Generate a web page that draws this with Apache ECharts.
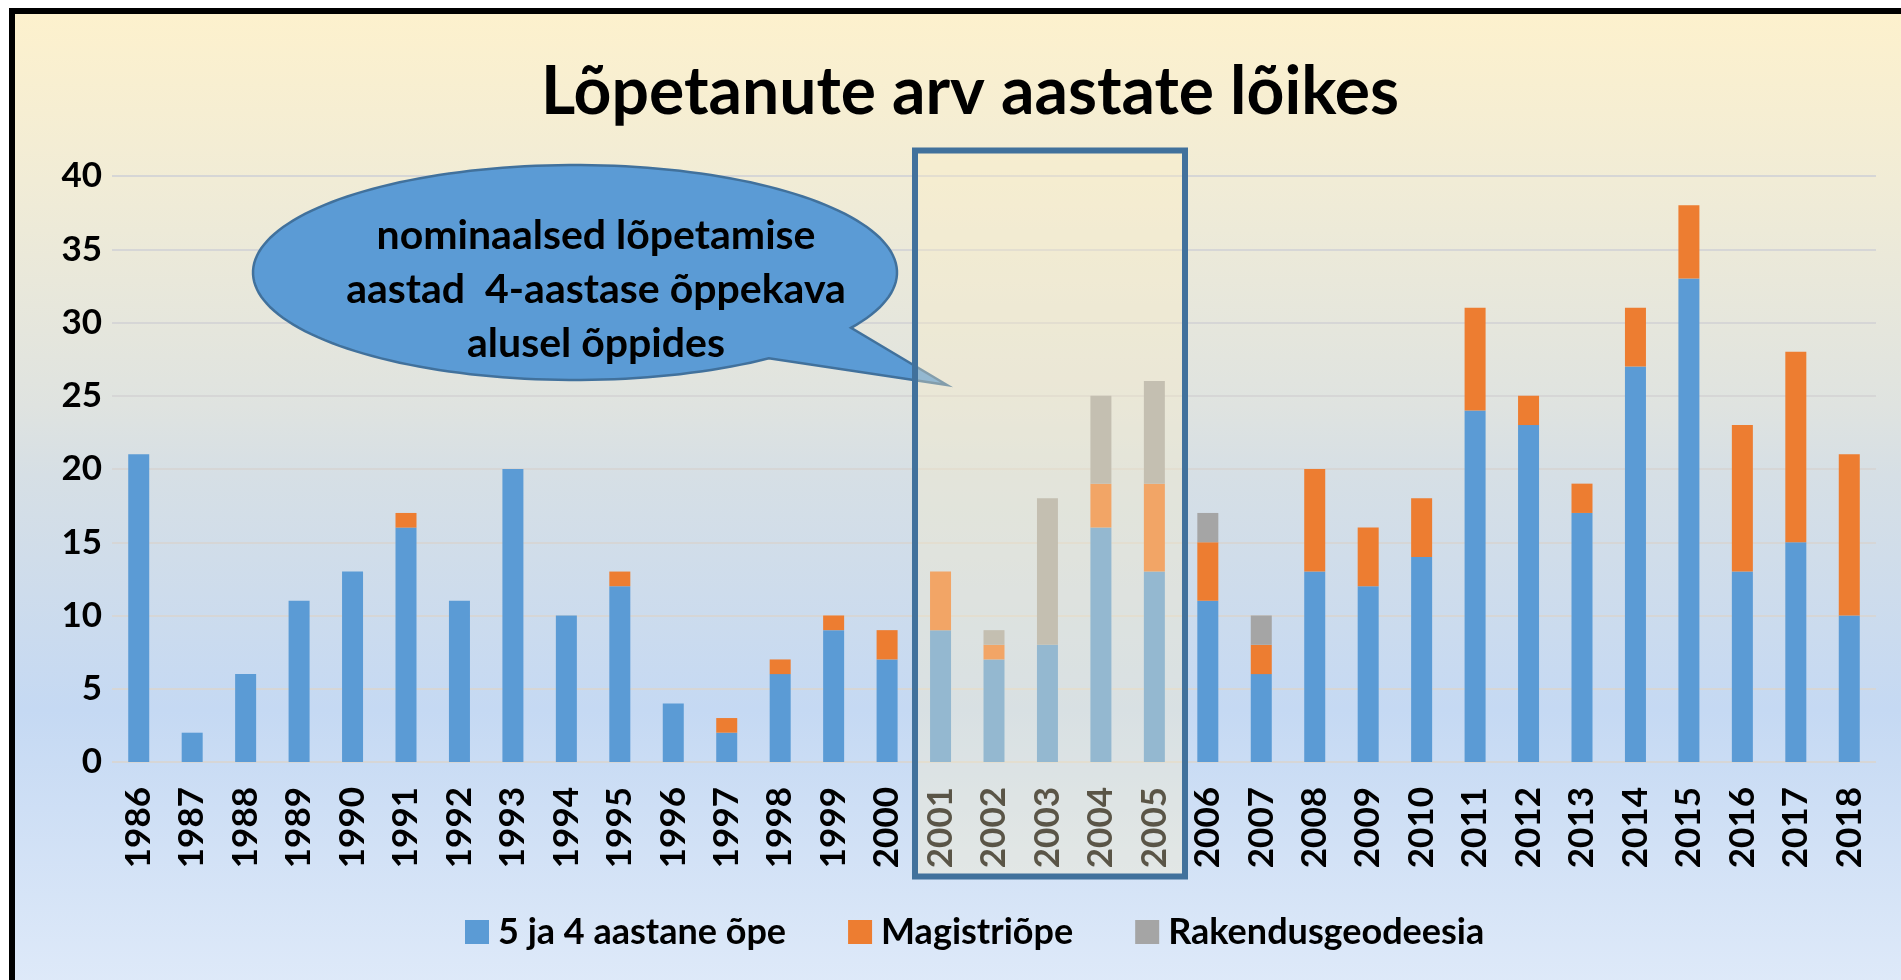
<!DOCTYPE html>
<html>
<head>
<meta charset="utf-8">
<title>Lõpetanute arv aastate lõikes</title>
<script src="https://cdn.jsdelivr.net/npm/echarts@6/dist/echarts.min.js"></script>
<style>
html, body { margin: 0; padding: 0; background: #fff; overflow: hidden; }
#frame {
  position: absolute; left: 9px; top: 8px; width: 1900px; height: 980px;
  border-left: 6px solid #000; border-top: 6px solid #000;
  background: linear-gradient(to bottom, #fdf1cd 0%, #f1ecd6 17%, #dfe3e0 40%, #d6dfe5 47%, #c5d9f3 71%, #dfeaf9 100%);
}
#chart { position: absolute; left: 0; top: 0; width: 1901px; height: 980px; }
</style>
</head>
<body>
<div id="frame"></div>
<div id="chart"></div>
<script>
// aastad
var years = ['1986','1987','1988','1989','1990','1991','1992','1993','1994','1995','1996',
  '1997','1998','1999','2000','2001','2002','2003','2004','2005','2006','2007','2008',
  '2009','2010','2011','2012','2013','2014','2015','2016','2017','2018'];
// 5 ja 4 aastane õpe
var bachelor = [21, 2, 6, 11, 13, 16, 11, 20, 10, 12, 4, 2, 6, 9, 7, 9, 7, 8, 16, 13,
  11, 6, 13, 12, 14, 24, 23, 17, 27, 33, 13, 15, 10];
// Magistriõpe
var master = [0, 0, 0, 0, 0, 1, 0, 0, 0, 1, 0, 1, 1, 1, 2, 4, 1, 0, 3, 6,
  4, 2, 7, 4, 4, 7, 2, 2, 4, 5, 10, 13, 11];
// Rakendusgeodeesia
var applied = [0, 0, 0, 0, 0, 0, 0, 0, 0, 0, 0, 0, 0, 0, 0, 0, 1, 10, 6, 7,
  2, 2, 0, 0, 0, 0, 0, 0, 0, 0, 0, 0, 0];
var yTicks = [0, 5, 10, 15, 20, 25, 30, 35, 40];

var FONT = 'Lato';
var chart = echarts.init(document.getElementById('chart'));

function barSeries(name, data, color) {
  return {
    name: name,
    type: 'bar',
    stack: 'total',
    barWidth: 21,
    itemStyle: { color: color },
    emphasis: { disabled: true },
    data: data
  };
}

// jutumulli kontuur: ellips + nool
function bubblePoints() {
  var cx = 575, cy = 272.5, rx = 322, ry = 107.5;
  var pts = [[947, 385]];
  for (var a = 53; a <= 391; a += 2) {
    var t = a * Math.PI / 180;
    pts.push([cx + rx * Math.cos(t), cy + ry * Math.sin(t)]);
  }
  return pts;
}

var option = {
  animation: false,
  backgroundColor: 'transparent',
  title: {
    text: 'Lõpetanute arv aastate lõikes',
    left: 541,
    top: 60,
    padding: 0,
    textStyle: { fontFamily: FONT, fontWeight: 'bold', fontSize: 66, color: '#000' }
  },
  legend: {
    left: 465,
    top: 914,
    padding: 0,
    icon: 'rect',
    itemWidth: 24,
    itemHeight: 24,
    itemGap: 62,
    textStyle: { fontFamily: FONT, fontWeight: 'bold', fontSize: 36, color: '#000', padding: [0, 0, 0, 4] },
    data: ['5 ja 4 aastane õpe', 'Magistriõpe', 'Rakendusgeodeesia']
  },
  grid: {
    left: 112, right: 25, top: 176, bottom: 218,
    containLabel: false,
    outerBoundsMode: 'none'
  },
  xAxis: {
    type: 'category',
    data: years,
    axisLine: { show: false },
    axisTick: { show: false },
    axisLabel: {
      rotate: 90,
      interval: 0,
      margin: 25,
      fontFamily: FONT, fontWeight: 'bold', fontSize: 35, color: '#000'
    }
  },
  yAxis: {
    type: 'value',
    min: yTicks[0],
    max: yTicks[yTicks.length - 1],
    interval: 5,
    axisLine: { show: false },
    axisTick: { show: false },
    axisLabel: { margin: 10, fontFamily: FONT, fontWeight: 'bold', fontSize: 35, color: '#000' },
    splitLine: { lineStyle: { color: '#d6d6d6', width: 2 } }
  },
  series: [
    barSeries('5 ja 4 aastane õpe', bachelor, '#5b9bd5'),
    barSeries('Magistriõpe', master, '#ed7d31'),
    barSeries('Rakendusgeodeesia', applied, '#a5a5a5')
  ],
  graphic: [
    {
      type: 'polygon',
      z: 50,
      shape: { points: bubblePoints() },
      style: { fill: '#5b9bd5', stroke: '#41719c', lineWidth: 2.5 }
    },
    {
      type: 'text',
      z: 51,
      x: 596,
      y: 290,
      style: {
        text: 'nominaalsed lõpetamise\naastad  4-aastase õppekava\nalusel õppides',
        fontFamily: FONT, fontWeight: 'bold', fontSize: 41, lineHeight: 54,
        fill: '#000', align: 'center', verticalAlign: 'middle'
      }
    },
    {
      // 2001-2005 esiletõstetud kast
      type: 'rect',
      z: 100,
      shape: { x: 915, y: 150.5, width: 270, height: 726 },
      style: { fill: 'rgba(251,239,199,0.355)', stroke: '#41719c', lineWidth: 6 }
    }
  ]
};

chart.setOption(option);
</script>
</body>
</html>
